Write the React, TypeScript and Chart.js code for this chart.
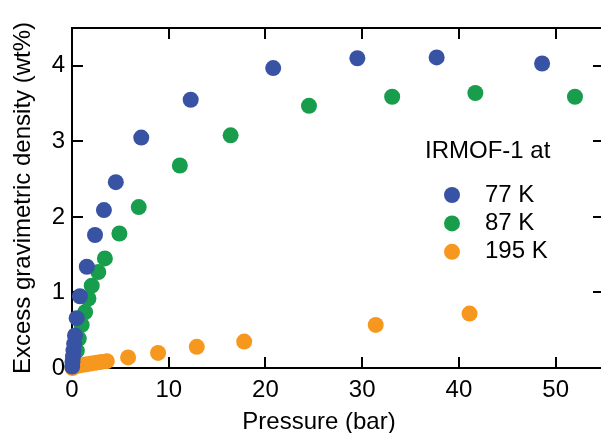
import React, { useEffect, useRef } from "react";
import { Chart, registerables } from "chart.js";

Chart.register(...registerables);

const seriesLabels = ["77 K", "87 K", "195 K"];
const seriesColors = ["#3953a4", "#179d4b", "#f7981e"];
const legendTitle = "IRMOF-1 at";
const xTitle = "Pressure (bar)";
const yTitle = "Excess gravimetric density (wt%)";

const xTickValues = [0, 10, 20, 30, 40, 50];
const yTickValues = [0, 1, 2, 3, 4];

// 77 K
const pressure77 = [0.02, 0.05, 0.1, 0.15, 0.22, 0.31, 0.48, 0.82, 1.53, 2.38, 3.3, 4.53, 7.16, 12.27, 20.8, 29.5, 37.7, 48.6];
const density77 = [0.02, 0.08, 0.15, 0.23, 0.32, 0.43, 0.66, 0.95, 1.34, 1.76, 2.09, 2.46, 3.05, 3.55, 3.97, 4.1, 4.11, 4.03];

// 87 K
const pressure87 = [0.05, 0.2, 0.5, 0.7, 1.0, 1.36, 1.7, 2.04, 2.72, 3.4, 4.9, 6.9, 11.15, 16.4, 24.5, 33.1, 41.7, 52.0];
const density87 = [0.02, 0.08, 0.23, 0.39, 0.57, 0.74, 0.92, 1.09, 1.27, 1.45, 1.78, 2.13, 2.68, 3.08, 3.47, 3.59, 3.64, 3.59];

// 195 K
const pressure195 = [0.05, 0.3, 0.6, 1.0, 1.5, 2.0, 2.5, 3.0, 3.6, 5.8, 8.9, 12.9, 17.8, 31.4, 41.1];
const density195 = [0.0, 0.02, 0.03, 0.04, 0.05, 0.06, 0.07, 0.08, 0.09, 0.14, 0.2, 0.28, 0.35, 0.57, 0.72];

const FONT = "'Liberation Sans', Arial, Helvetica, sans-serif";

const toPoints = (xs: number[], ys: number[]) => xs.map((x, i) => ({ x, y: ys[i] }));

const framePlugin = {
  id: "framePlugin",
  beforeDatasetsDraw(chart: any) {
    const { ctx, chartArea } = chart;
    const { left, right, top, bottom } = chartArea;
    const xs = chart.scales.x;
    const ys = chart.scales.y;
    const tick = 11;
    ctx.save();
    ctx.strokeStyle = "#000";
    ctx.lineWidth = 2;
    ctx.strokeRect(left, top, right - left, bottom - top);
    ctx.beginPath();
    xTickValues.forEach((v) => {
      const px = Math.round(xs.getPixelForValue(v));
      ctx.moveTo(px, bottom);
      ctx.lineTo(px, bottom - tick);
      ctx.moveTo(px, top);
      ctx.lineTo(px, top + tick);
    });
    yTickValues.forEach((v) => {
      const py = Math.round(ys.getPixelForValue(v));
      ctx.moveTo(left, py);
      ctx.lineTo(left + tick, py);
      ctx.moveTo(right, py);
      ctx.lineTo(right - tick, py);
    });
    ctx.stroke();
    ctx.restore();
  },
  afterDraw(chart: any) {
    const { ctx } = chart;
    ctx.save();
    ctx.fillStyle = "#000";
    ctx.font = `24px ${FONT}`;
    ctx.textBaseline = "middle";
    ctx.textAlign = "center";
    ctx.fillText(xTitle, 319, 422);
    ctx.textAlign = "left";
    ctx.fillText(legendTitle, 425, 151);
    chart.data.datasets.forEach((ds: any, i: number) => {
      const y = 195 + i * 28.4;
      ctx.beginPath();
      ctx.fillStyle = ds.backgroundColor;
      ctx.arc(452, y, 8, 0, Math.PI * 2);
      ctx.fill();
      ctx.fillStyle = "#000";
      ctx.fillText(ds.label, 485, y);
    });
    ctx.restore();
  },
};

export default function App() {
  const canvasRef = useRef<HTMLCanvasElement | null>(null);

  useEffect(() => {
    document.body.style.margin = "0";
    const canvas = canvasRef.current;
    if (!canvas) return;
    const makeDs = (i: number, xs: number[], ys: number[], order: number) => ({
      label: seriesLabels[i],
      data: toPoints(xs, ys),
      backgroundColor: seriesColors[i],
      borderColor: seriesColors[i],
      borderWidth: 0,
      pointRadius: 8,
      pointHoverRadius: 8,
      showLine: false,
      clip: false,
      order,
    });
    const chart = new Chart(canvas, {
      type: "scatter",
      data: {
        datasets: [
          makeDs(0, pressure77, density77, 0),
          makeDs(1, pressure87, density87, 2),
          makeDs(2, pressure195, density195, 1),
        ],
      },
      options: {
        animation: false,
        responsive: false,
        devicePixelRatio: 1,
        layout: { padding: { top: 28, right: 1, left: 0, bottom: 0 } },
        plugins: {
          legend: { display: false },
          tooltip: { enabled: false },
        },
        scales: {
          x: {
            type: "linear",
            min: 0,
            max: 55,
            grid: { display: false, drawTicks: false },
            border: { display: false },
            ticks: {
              stepSize: 10,
              padding: 8,
              color: "#000",
              font: { family: FONT, size: 24 },
              maxRotation: 0,
              callback: (v: any) => (Number(v) % 10 === 0 ? String(v) : ""),
            },
            afterFit: (s: any) => {
              s.height = 65;
            },
          },
          y: {
            type: "linear",
            min: 0,
            max: 4.5,
            grid: { display: false, drawTicks: false },
            border: { display: false },
            title: {
              display: true,
              text: yTitle,
              color: "#000",
              font: { family: FONT, size: 24, lineHeight: 1 },
              padding: { top: 11, bottom: 0 },
            },
            ticks: {
              stepSize: 1,
              padding: 7,
              color: "#000",
              font: { family: FONT, size: 24 },
              callback: (v: any) => (Number.isInteger(Number(v)) ? String(v) : ""),
            },
            afterFit: (s: any) => {
              s.width = 72;
            },
          },
        },
      },
      plugins: [framePlugin],
    } as any);
    return () => chart.destroy();
  }, []);

  return (
    <div style={{ width: 601, height: 433, overflow: "hidden", position: "relative" }}>
      <canvas ref={canvasRef} width={612} height={433} style={{ width: 612, height: 433, display: "block" }} />
    </div>
  );
}
